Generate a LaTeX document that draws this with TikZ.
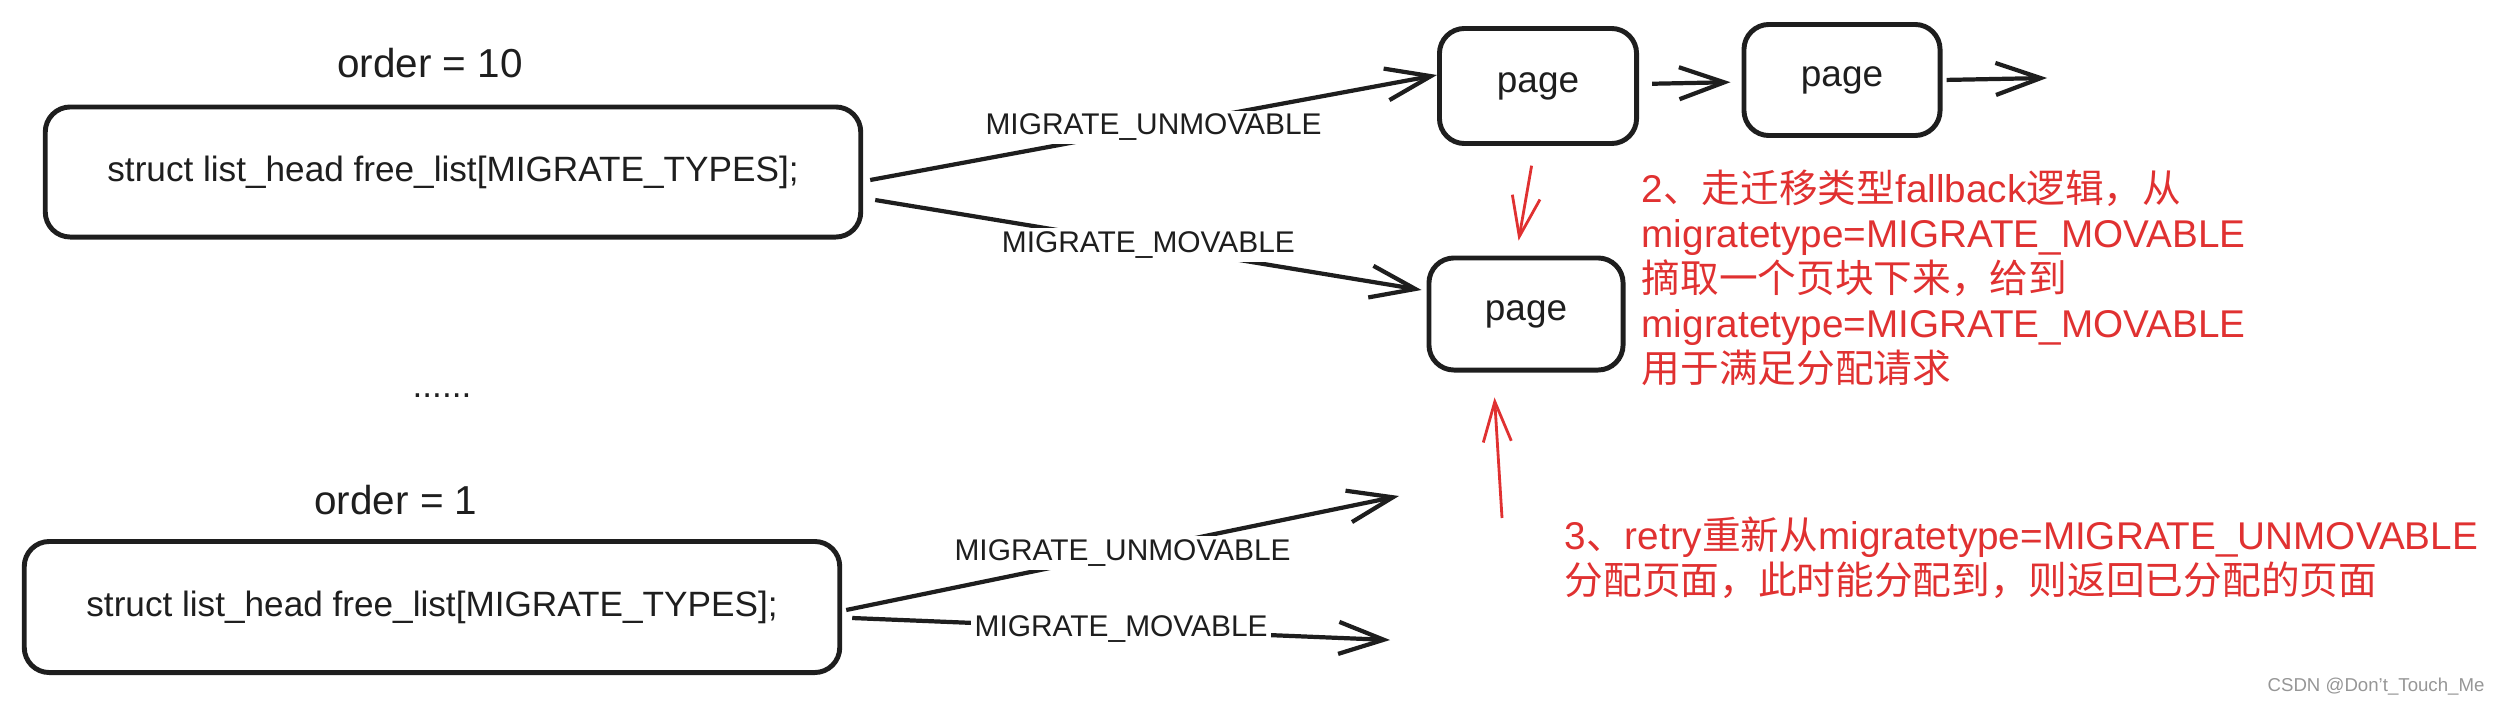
\documentclass[tikz,border=0pt]{standalone}
\usepackage{fontspec}
\setmainfont{Liberation Sans}
\newfontfamily\cjk{Noto Sans CJK SC}
\usetikzlibrary{
  arrows.meta,
  positioning
}
\definecolor{inkcolor}{RGB}{30,30,30}
\definecolor{notecolor}{RGB}{224,49,49}
\definecolor{markcolor}{RGB}{150,150,150}
\newcommand{\zh}[1]{{\cjk #1}}

\begin{document}
\begin{tikzpicture}[x=0.01cm, y=-0.01cm, font=\fontsize{10}{12}\selectfont, color=inkcolor]

  \tikzset{
    listbox/.style={
      draw, rounded corners=0.25cm, line width=1.4pt,
      minimum width=8.15cm, minimum height=1.3cm
    },
    pagebox/.style={
      draw, rounded corners=0.25cm, line width=1.4pt,
      minimum width=1.95cm, minimum height=1.12cm,
      font=\fontsize{10.5}{12}\selectfont
    },
    flow/.style={
      -{Straight Barb[length=4.5mm, width=3.2mm]}, line width=1.2pt
    },
    redflow/.style={
      -{Straight Barb[length=4mm, width=2.8mm]}, line width=0.8pt, notecolor
    },
    lbl/.style={fill=white, inner sep=1pt, font=\fontsize{8.5}{10}\selectfont},
    note/.style={
      notecolor, inner sep=0pt, align=left, anchor=north west,
      font=\fontsize{11}{12.8}\selectfont
    }
  }

  \useasboundingbox (0,0) rectangle (2498,706);

  % ---- Left column: free lists ----
  \node[font=\fontsize{11.5}{14}\selectfont] (ord10) at (430,63) {order = 10};
  \node[listbox] (list10) at (453,172)
    {struct list\_head free\_list[MIGRATE\_TYPES];};

  \node[anchor=base] (dots) at (442,397) {......};

  \node[font=\fontsize{11.5}{14}\selectfont] (ord1) at (396,500) {order = 1};
  \node[listbox, minimum height=1.31cm] (list1) at (432,607)
    {struct list\_head free\_list[MIGRATE\_TYPES];};

  % ---- Right side: pages ----
  \node[pagebox, minimum width=1.97cm, minimum height=1.15cm] (page1) at (1538,86) {page};
  \node[pagebox, minimum width=1.96cm, minimum height=1.11cm] (page2) at (1842,80) {page};
  \node[pagebox, minimum width=1.94cm] (page3) at (1526,314) {page};

  \coordinate (tail) at (2047,78);
  \coordinate (freeA) at (1399,496);
  \coordinate (freeB) at (1390,640);
  \coordinate (retry) at (1502,518);

  % order = 10 lists
  \draw[flow] ([xshift=0.7mm, yshift=-0.8mm]list10.east) --
    node[lbl] {MIGRATE\_UNMOVABLE} ([yshift=1.1mm]page1.west);
  \draw[flow] ([xshift=1.2mm, yshift=-2.8mm]list10.east) --
    node[lbl] {MIGRATE\_MOVABLE} ([xshift=-0.5mm, yshift=2.4mm]page3.west);

  % page chain
  \draw[flow, shorten <=1.3mm, shorten >=1.1mm] (page1) -- (page2);
  \draw[flow, shorten <=0.4mm] (page2.east) -- (tail);

  % order = 1 lists
  \draw[flow] ([xshift=0.4mm, yshift=-0.3mm]list1.east) --
    node[lbl] {MIGRATE\_UNMOVABLE} (freeA);
  \draw[flow] ([xshift=1mm, yshift=-1.1mm]list1.east) --
    node[lbl] {MIGRATE\_MOVABLE} (freeB);

  % ---- Red notes ----
  \draw[redflow, shorten <=2mm, shorten >=1.5mm]
    ([xshift=-0.3mm]page1.south) -- ([xshift=-1mm]page3.north);
  \draw[redflow, shorten >=2.5mm] (retry) -- ([xshift=-3.3mm]page3.south);

  \node[note] (fallback) at (1641,169) {
    2\zh{、走迁移类型}fallback\zh{逻辑，从}\\
    migratetype=MIGRATE\_MOVABLE\\
    \zh{摘取一个页块下来，给到}\\
    migratetype=MIGRATE\_MOVABLE\\
    \zh{用于满足分配请求}
  };

  \node[note] (retrynote) at (1564,516) {
    3\zh{、}retry\zh{重新从}migratetype=MIGRATE\_UNMOVABLE\\
    \zh{分配页面，此时能分配到，则返回已分配的页面}
  };

  \node[font=\fontsize{5.3}{6}\selectfont, markcolor] (mark) at (2376,687)
    {CSDN @Don{\char"0027}t\_Touch\_Me};

\end{tikzpicture}
\end{document}
